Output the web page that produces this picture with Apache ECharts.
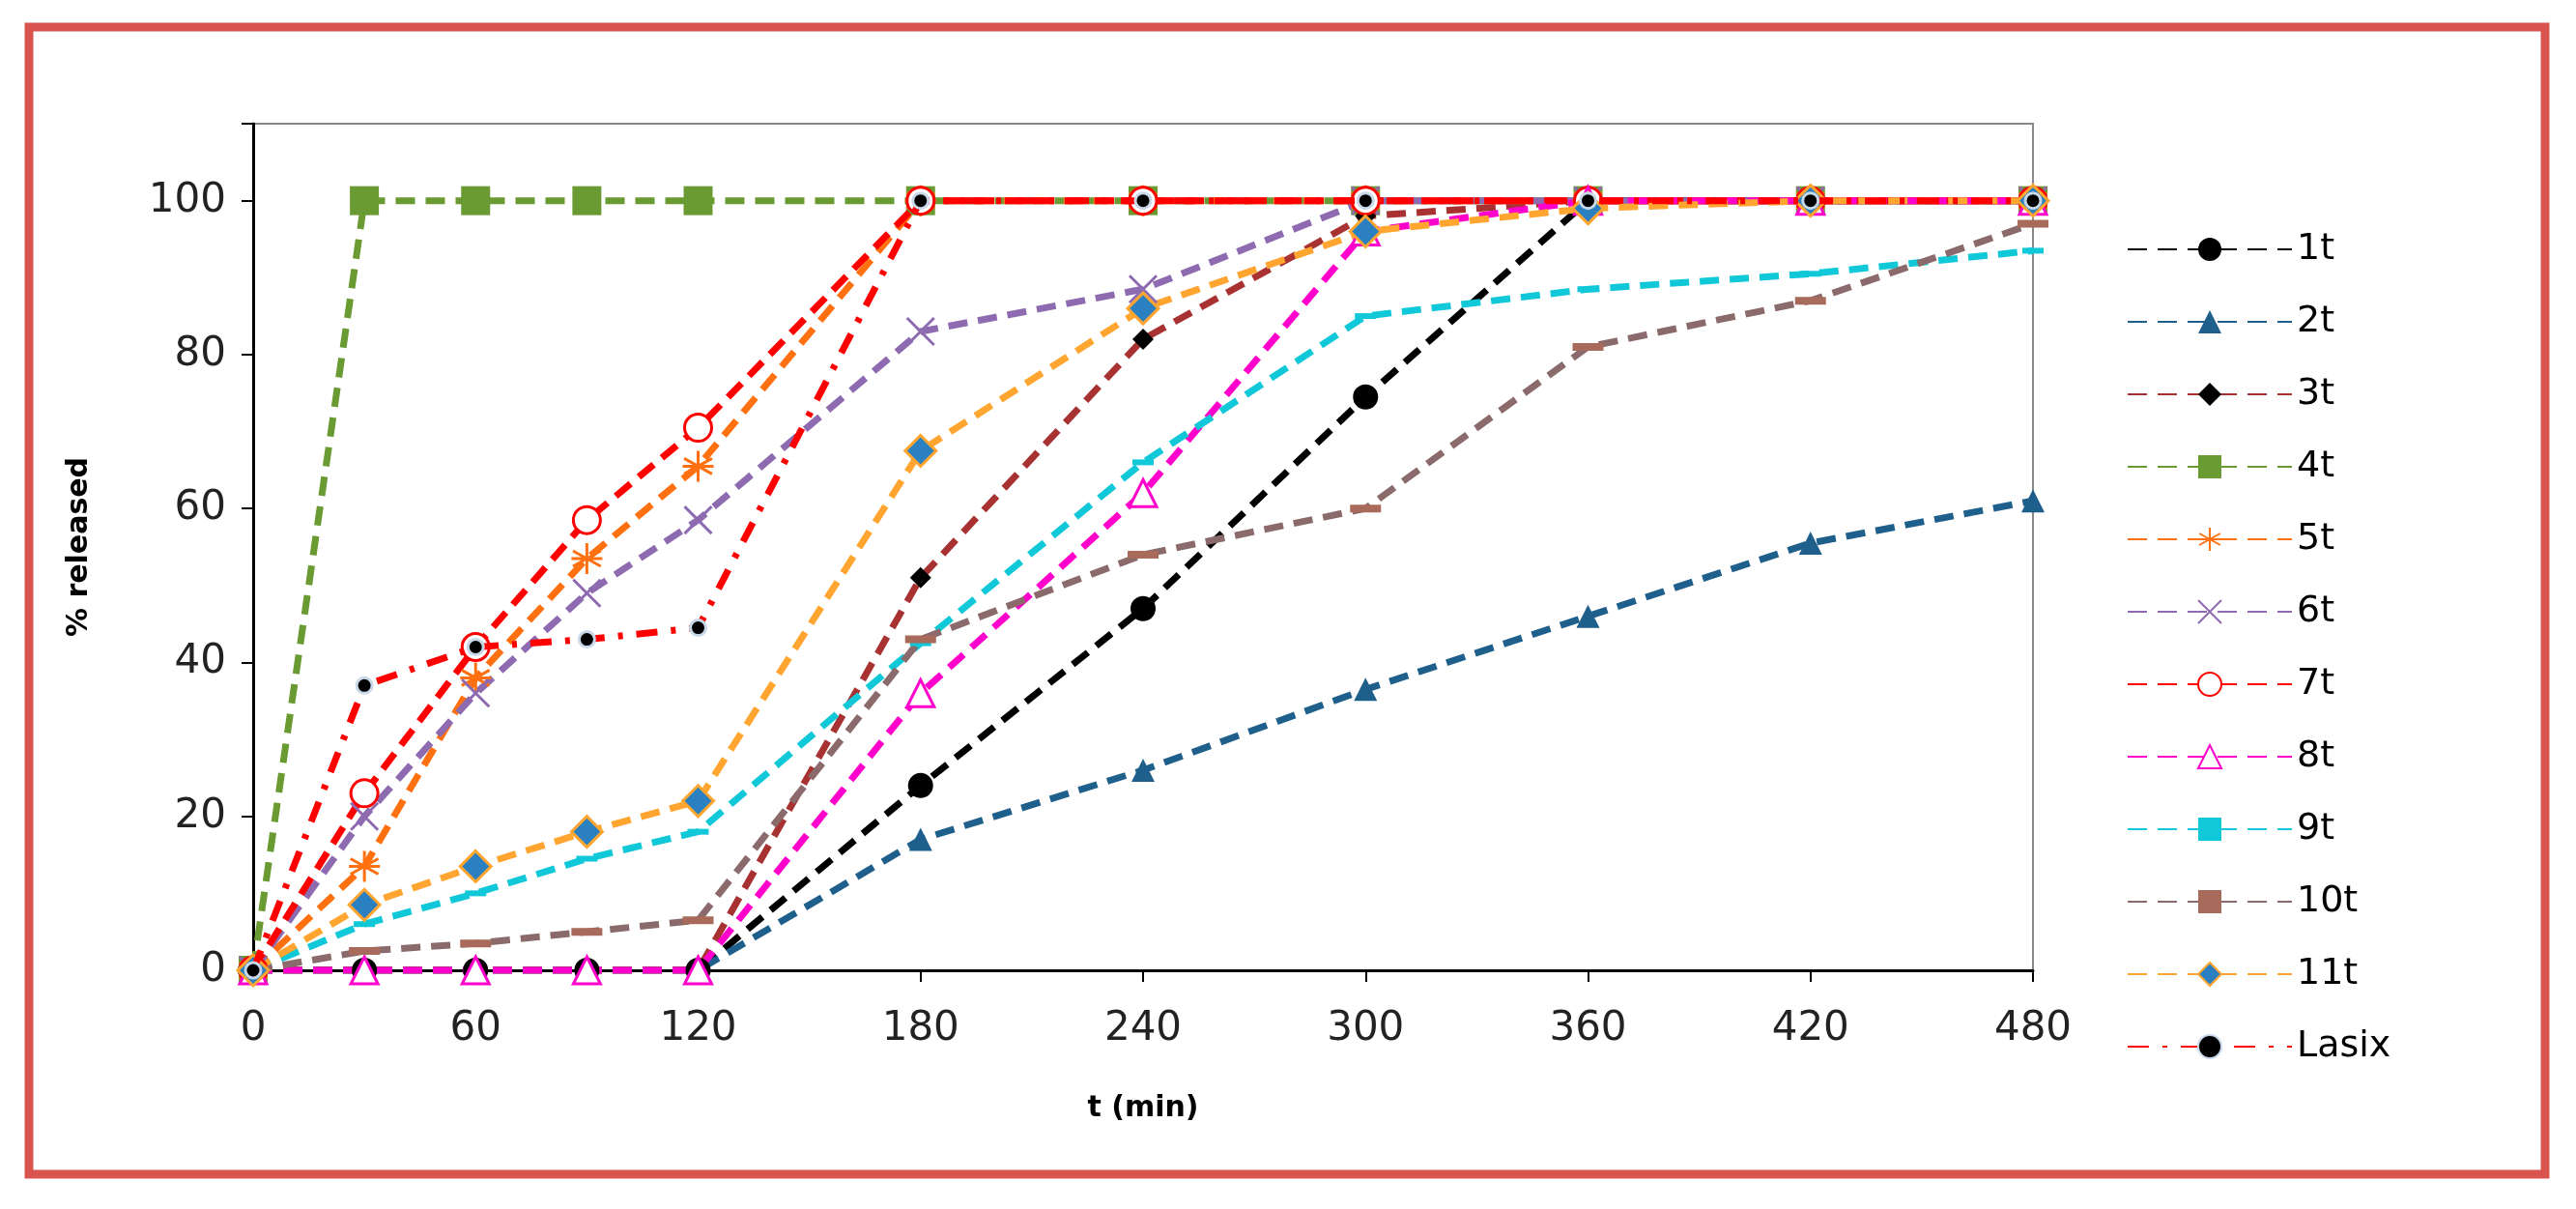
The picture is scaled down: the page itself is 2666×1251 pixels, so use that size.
<!DOCTYPE html>
<html><head><meta charset="utf-8">
<script src="https://cdn.jsdelivr.net/npm/echarts@6/dist/echarts.min.js"></script>
<style>html,body{margin:0;padding:0;background:#fff}#c{width:2666px;height:1251px}</style>
</head><body><div id="c"></div>
<script>
const times = [0,30,60,90,120,180,240,300,360,420,480];
const xTicks = [0,60,120,180,240,300,360,420,480];
const yTicks = [0,20,40,60,80,100];
const names = ['1t','2t','3t','4t','5t','6t','7t','8t','9t','10t','11t','Lasix'];
const v1 = [0,0,0,0,0,24,47,74.5,100,100,100];
const v2 = [0,0,0,0,0,17,26,36.5,46,55.5,61];
const v3 = [0,0,0,0,0,51,82,98,100,100,100];
const v4 = [0,100,100,100,100,100,100,100,100,100,100];
const v5 = [0,13.5,38,53.5,65.5,100,100,100,100,100,100];
const v6 = [0,20,36,49,58.5,83,88.5,100,100,100,100];
const v7 = [0,23,42,58.5,70.5,100,100,100,100,100,100];
const v8 = [0,0,0,0,0,36,62,96,100,100,100];
const v9 = [0,6,10,14.5,18,42.5,66,85,88.5,90.5,93.5];
const v10 = [0,2.5,3.5,5,6.5,43,54,60,81,87,97];
const v11 = [0,8.5,13.5,18,22,67.5,86,96,99,100,100];
const vL = [0,37,42,43,44.5,100,100,100,100,100,100];
const values = [v1,v2,v3,v4,v5,v6,v7,v8,v9,v10,v11,vL];
const colors = ['#000000','#1f5f8b','#a83232','#6a9a32','#ff7010','#8e6bb0','#ff0000','#ff00cc','#10c8d8','#8a6a6a','#ffa530','#ff0000'];
const star = 'path://M0,-10L0,10M-9,-5L9,5M-9,5L9,-5M-10,0L10,0';
const xpath = 'path://M-10,-10L10,10M-10,10L10,-10';
const dash = 'path://M-10,-2L10,-2L10,2L-10,2Z';
const sym = [
 {s:'circle',sz:26,st:{color:'#000'}},
 {s:'triangle',sz:24,st:{color:'#1f5f8b'}},
 {s:'diamond',sz:22,st:{color:'#000'}},
 {s:'rect',sz:30,st:{color:'#6a9a32'}},
 {s:star,sz:32,st:{color:'none',borderColor:'#ff7010',borderWidth:3}},
 {s:xpath,sz:28,st:{color:'none',borderColor:'#8e6bb0',borderWidth:3}},
 {s:'circle',sz:28,st:{color:'#fff',borderColor:'#ff0000',borderWidth:3}},
 {s:'triangle',sz:28,st:{color:'#fff',borderColor:'#ff00cc',borderWidth:3}},
 {s:dash,sz:[22,6],st:{color:'#10c8d8'}},
 {s:dash,sz:[32,8],st:{color:'#a86a5a'}},
 {s:'diamond',sz:32,st:{color:'#2a80c0',borderColor:'#ffa530',borderWidth:3}},
 {s:'circle',sz:16,st:{color:'#000',borderColor:'#c8d8e8',borderWidth:3}}
];
const series = names.map((n,i)=>({
  name:n, type:'line', data: times.map((t,j)=>[t,values[i][j]]),
  symbol: sym[i].s, symbolSize: sym[i].sz, itemStyle: sym[i].st,
  lineStyle:{color:colors[i],width:7,type: i===11 ? [22,14,5,14] : [20,11]},
  z: i===11?10:(i===3?1:5), animation:false
}));
const chart = echarts.init(document.getElementById('c'));
chart.setOption({
  animation:false,
  graphic:[{type:'rect',shape:{x:30,y:28,width:2604,height:1187},style:{fill:'none',stroke:'#d9534f',lineWidth:9}}],
  grid:{left:262,right:562,top:128,bottom:247,show:true,borderColor:'#888',borderWidth:2},
  legend:{orient:'vertical',left:2196,top:234,itemWidth:170,itemHeight:30,itemGap:37,
    textStyle:{fontSize:38,fontFamily:'DejaVu Sans',color:'#000'},data:names},
  xAxis:{type:'value',min:0,max:480,interval:60,name:'t (min)',nameLocation:'middle',nameGap:128,
    nameTextStyle:{fontSize:30,fontWeight:'bold',fontFamily:'DejaVu Sans'},
    axisLine:{lineStyle:{color:'#000',width:3}},axisTick:{show:true,length:12,lineStyle:{color:'#000',width:2}},
    axisLabel:{fontSize:42,color:'#222',fontFamily:'DejaVu Sans',margin:40},splitLine:{show:false}},
  yAxis:{type:'value',min:0,max:110,interval:20,name:'% released',nameLocation:'middle',nameGap:165,
    nameTextStyle:{fontSize:30,fontWeight:'bold',fontFamily:'DejaVu Sans'},
    axisLine:{show:true,lineStyle:{color:'#000',width:3}},axisTick:{show:true,length:12,lineStyle:{color:'#000',width:2}},
    axisLabel:{fontSize:42,color:'#222',fontFamily:'DejaVu Sans',margin:28,formatter:v=>yTicks.includes(v)?String(v):''},splitLine:{show:false}},
  series
});
</script></body></html>
